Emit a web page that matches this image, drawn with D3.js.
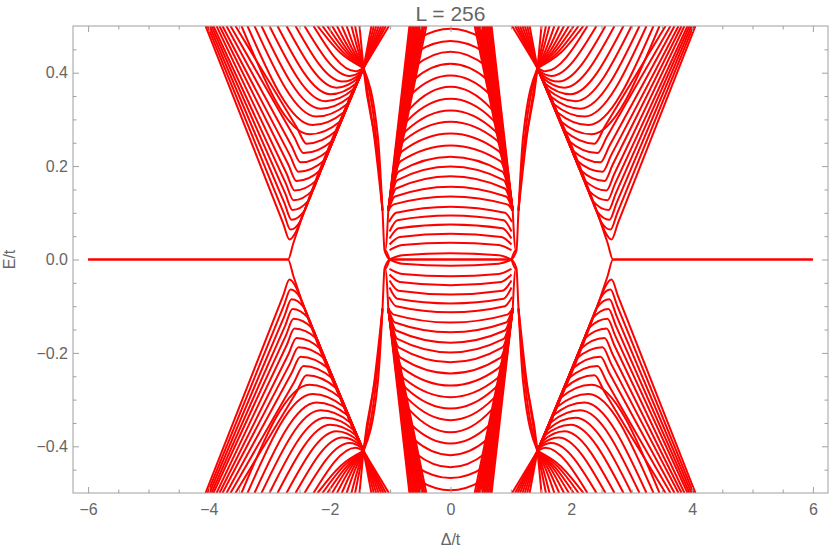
<!DOCTYPE html>
<html lang="en">
<head>
<meta charset="UTF-8">
<title>L = 256</title>
<script src="https://d3js.org/d3.v7.min.js"></script>
<style>
  body { margin: 0; background: #fff; }
  text { font-family: "Liberation Sans", Arial, sans-serif; fill: #666; }
</style>
</head>
<body>
<div id="chart"></div>
<script>
// Spectrum E/t vs Δ/t, L = 256.
// Curves are read off for the upper-left quarter (Δ < 0, E > 0) and for the
// left half of the central arcs; the plot is symmetric in Δ -> -Δ and E -> -E.

const titleText = "L = 256";
const xTicks = [-6, -4, -2, 0, 2, 4, 6];
const yTicks = [-0.4, -0.2, 0.0, 0.2, 0.4];

const crossPoint = [-1.44, 0.41];

// zero mode, splitting off at the gap closing and running up the V edge
const zeroMode = [[-6.0, 0], [-2.69, 0], [-2.60, 0.036], [-1.44, 0.41]];

// bowls inside the left V: top, (knee), minimum, then along the V edge
const bowls = [
  [[-4.056, 0.5], [-2.772, 0.078], [-2.666, 0.043], [-2.556, 0.060], [-2.463, 0.090]],
  [[-4.023, 0.5], [-2.759, 0.099], [-2.649, 0.064], [-2.487, 0.082], [-2.394, 0.112]],
  [[-3.990, 0.5], [-2.747, 0.120], [-2.632, 0.085], [-2.419, 0.104], [-2.326, 0.134]],
  [[-3.957, 0.5], [-2.735, 0.141], [-2.616, 0.106], [-2.351, 0.126], [-2.258, 0.156]],
  [[-3.924, 0.5], [-2.723, 0.162], [-2.599, 0.127], [-2.283, 0.148], [-2.190, 0.178]],
  [[-3.874, 0.5], [-2.711, 0.183], [-2.583, 0.148], [-2.215, 0.170], [-2.122, 0.200]],
  [[-3.825, 0.5], [-2.684, 0.203], [-2.550, 0.168], [-2.146, 0.192], [-2.053, 0.222]],
  [[-3.775, 0.5], [-2.658, 0.223], [-2.517, 0.188], [-2.081, 0.213], [-1.988, 0.243]],
  [[-3.709, 0.5], [-2.630, 0.243], [-2.483, 0.208], [-2.016, 0.234], [-1.923, 0.264]],
  [[-3.642, 0.5], [-2.590, 0.263], [-2.434, 0.228], [-1.951, 0.255], [-1.858, 0.285]],
  [[-3.560, 0.5], [-2.547, 0.283], [-2.384, 0.248], [-1.886, 0.276], [-1.793, 0.306]],
  [[-3.460, 0.5], [-2.334, 0.268], [-1.824, 0.296], [-1.731, 0.326]],
  [[-3.361, 0.5], [-2.285, 0.288], [-1.762, 0.316], [-1.669, 0.346]],
  [[-3.245, 0.5], [-2.219, 0.306], [-1.709, 0.333], [-1.606, 0.363]],
  [[-3.129, 0.5], [-2.152, 0.323], [-1.660, 0.349], [-1.557, 0.379]],
  [[-2.997, 0.5], [-2.070, 0.339], [-1.613, 0.364], [-1.513, 0.390]],
  [[-2.864, 0.5], [-1.987, 0.354], [-1.563, 0.377]],
  [[-2.715, 0.5], [-1.887, 0.368], [-1.526, 0.389]],
  [[-2.566, 0.5], [-1.788, 0.381], [-1.493, 0.398]],
  [[-2.417, 0.5], [-1.672, 0.393], [-1.470, 0.404]],
  [[-2.268, 0.5], [-1.573, 0.403]],
  [[-2.20, 0.5], [-1.82, 0.442]],
  [[-2.12, 0.5], [-1.78, 0.444]],
  [[-2.04, 0.5], [-1.74, 0.446]],
  [[-1.96, 0.5], [-1.70, 0.447]],
  [[-1.88, 0.5], [-1.66, 0.448]],
  [[-1.80, 0.5], [-1.62, 0.449]],
  [[-1.72, 0.5], [-1.58, 0.450]],
  [[-1.64, 0.5], [-1.54, 0.452]],
  [[-1.58, 0.5], [-1.51, 0.455]]
];

// fan leaving the crossing towards the top
const fanTops = [-1.31, -1.27, -1.23, -1.19, -1.15, -1.11, -1.07, -1.02];

// steep line through the crossing, down to the central gap closing
const steepLine = [[-1.507, 0.5], [-1.44, 0.41], [-1.126, 0.105], [-1.093, 0.02], [-1.01, 0]];
const wedgeMids = [-1.26, -1.23, -1.20];
const wedgeEnd = [-1.126, 0.105];

// dense band of dome legs entering from the top
const legTops = [-0.68, -0.655, -0.63, -0.605, -0.58, -0.555, -0.53, -0.505, -0.48, -0.455, -0.43, -0.40];
const legCorner = [-1.03, 0.105];
const connector = [[-1.03, 0.105], [-1.08, 0.02], [-1.01, 0]];

// central domes (left half up to the peak at Δ = 0)
const domes = [
  [[-1.03, 0.105], [-0.50, 0.475], [0, 0.494]],
  [[-1.03, 0.105], [-0.55, 0.445], [0, 0.468]],
  [[-1.03, 0.105], [-0.58, 0.415], [0, 0.445]],
  [[-1.03, 0.105], [-0.61, 0.385], [0, 0.419]],
  [[-1.03, 0.105], [-0.64, 0.355], [0, 0.394]],
  [[-1.03, 0.105], [-0.68, 0.322], [0, 0.370]],
  [[-1.03, 0.105], [-0.71, 0.298], [0, 0.344]],
  [[-1.03, 0.105], [-0.74, 0.275], [0, 0.319]],
  [[-1.03, 0.105], [-0.77, 0.255], [0, 0.295]],
  [[-1.03, 0.105], [-0.80, 0.232], [0, 0.270]],
  [[-1.03, 0.105], [-0.83, 0.210], [0, 0.244]],
  [[-1.03, 0.105], [-0.86, 0.188], [0, 0.220]],
  [[-1.03, 0.105], [-0.88, 0.170], [0, 0.199]],
  [[-1.03, 0.105], [-0.90, 0.152], [0, 0.178]],
  [[-1.03, 0.105], [-0.92, 0.135], [0, 0.156]],
  [[-1.03, 0.105], [-0.94, 0.118], [0, 0.135]],
  [[-1.02, 0.080], [-0.90, 0.100], [0, 0.113]],
  [[-1.01, 0.060], [-0.88, 0.084], [0, 0.094]],
  [[-1.01, 0.045], [-0.86, 0.067], [0, 0.075]],
  [[-1.01, 0.032], [-0.84, 0.048], [0, 0.055]],
  [[-1.01, 0.020], [-0.80, 0.031], [0, 0.036]]
];
// lens around E = 0 in the middle phase
const lensArc = [[-1.01, 0], [-0.80, 0.009], [0, 0.0135]];
const lensFlat = [[-1.01, 0], [0, 0]];

const width = 830, height = 552;
const margin = { top: 26, right: 2, bottom: 59, left: 73 };

const x = d3.scaleLinear().domain([-6.25, 6.25]).range([margin.left, width - margin.right]);
const y = d3.scaleLinear().domain([-0.5, 0.5]).range([height - margin.bottom, margin.top]);

const svg = d3.select("#chart").append("svg")
  .attr("width", width).attr("height", height);

svg.append("clipPath").attr("id", "plot-clip")
  .append("rect")
  .attr("x", margin.left).attr("y", margin.top)
  .attr("width", width - margin.left - margin.right)
  .attr("height", height - margin.top - margin.bottom);

const line = d3.line()
  .x(d => x(d[0])).y(d => y(d[1]))
  .curve(d3.curveMonotoneX);

// reflect a curve, keeping Δ increasing for the monotone curve
function flip(pts, sx, sy) {
  const q = pts.map(([a, b]) => [sx * a, sy * b]);
  return sx < 0 ? q.reverse() : q;
}
// left half up to Δ = 0 -> whole arc
function whole(half) {
  return half.concat(half.slice(0, -1).reverse().map(([a, b]) => [-a, b]));
}

const quarter = [];
quarter.push(zeroMode);
bowls.forEach(b => quarter.push(b.concat([crossPoint])));
fanTops.forEach(t => quarter.push([crossPoint, [t, 0.5]]));
quarter.push(steepLine);
wedgeMids.forEach(m => quarter.push([crossPoint, [m, 0.26], wedgeEnd]));
legTops.forEach(t => quarter.push([[t, 0.5], legCorner]));
quarter.push(connector);

const centre = domes.map(whole).concat([whole(lensArc), whole(lensFlat)]);

const curves = [];
[1, -1].forEach(sy => {
  [1, -1].forEach(sx => quarter.forEach(c => curves.push(flip(c, sx, sy))));
  centre.forEach(c => curves.push(flip(c, 1, sy)));
});

svg.append("g")
  .attr("clip-path", "url(#plot-clip)")
  .selectAll("path")
  .data(curves)
  .join("path")
  .attr("d", line)
  .attr("fill", "none")
  .attr("stroke", "#ff0000")
  .attr("stroke-width", 2)
  .attr("stroke-linejoin", "round");

// frame with ticks on all sides
const frameColor = "#a0a0a0";
const xMinor = d3.range(-6, 6.01, 0.5).filter(v => !xTicks.includes(v));
const yMinor = d3.range(-0.45, 0.46, 0.05).filter(v => !yTicks.some(t => Math.abs(t - v) < 1e-6));

function styleAxis(g) {
  g.select(".domain").remove();
  g.selectAll(".tick line").attr("stroke", frameColor);
  g.selectAll(".tick text").attr("fill", "#666").style("font-size", "16px");
}

const yB = height - margin.bottom, xR = width - margin.right;

svg.append("g").attr("transform", `translate(0,${yB})`)
  .call(d3.axisBottom(x).tickValues(xTicks).tickSize(-6).tickPadding(11).tickFormat(d3.format("d")))
  .call(styleAxis);
svg.append("g").attr("transform", `translate(0,${yB})`)
  .call(d3.axisBottom(x).tickValues(xMinor).tickSize(-3.5).tickFormat(""))
  .call(styleAxis);
svg.append("g").attr("transform", `translate(0,${margin.top})`)
  .call(d3.axisTop(x).tickValues(xTicks).tickSize(-6).tickFormat(""))
  .call(styleAxis);
svg.append("g").attr("transform", `translate(0,${margin.top})`)
  .call(d3.axisTop(x).tickValues(xMinor).tickSize(-3.5).tickFormat(""))
  .call(styleAxis);

svg.append("g").attr("transform", `translate(${margin.left},0)`)
  .call(d3.axisLeft(y).tickValues(yTicks).tickSize(-6).tickPadding(5).tickFormat(d3.format(".1f")))
  .call(styleAxis);
svg.append("g").attr("transform", `translate(${margin.left},0)`)
  .call(d3.axisLeft(y).tickValues(yMinor).tickSize(-3.5).tickFormat(""))
  .call(styleAxis);
svg.append("g").attr("transform", `translate(${xR},0)`)
  .call(d3.axisRight(y).tickValues(yTicks).tickSize(-6).tickFormat(""))
  .call(styleAxis);
svg.append("g").attr("transform", `translate(${xR},0)`)
  .call(d3.axisRight(y).tickValues(yMinor).tickSize(-3.5).tickFormat(""))
  .call(styleAxis);

svg.append("rect")
  .attr("x", margin.left).attr("y", margin.top)
  .attr("width", xR - margin.left).attr("height", yB - margin.top)
  .attr("fill", "none").attr("stroke", frameColor).attr("stroke-width", 1);

// labels
svg.append("text")
  .attr("x", x(0)).attr("y", 21)
  .attr("text-anchor", "middle")
  .style("font-size", "21px")
  .text(titleText);

svg.append("text")
  .attr("x", x(0)).attr("y", 545)
  .attr("text-anchor", "middle")
  .style("font-size", "16px")
  .text("Δ/t");

svg.append("text")
  .attr("transform", `translate(15,${y(0)}) rotate(-90)`)
  .attr("text-anchor", "middle")
  .style("font-size", "16px")
  .text("E/t");
</script>
</body>
</html>
